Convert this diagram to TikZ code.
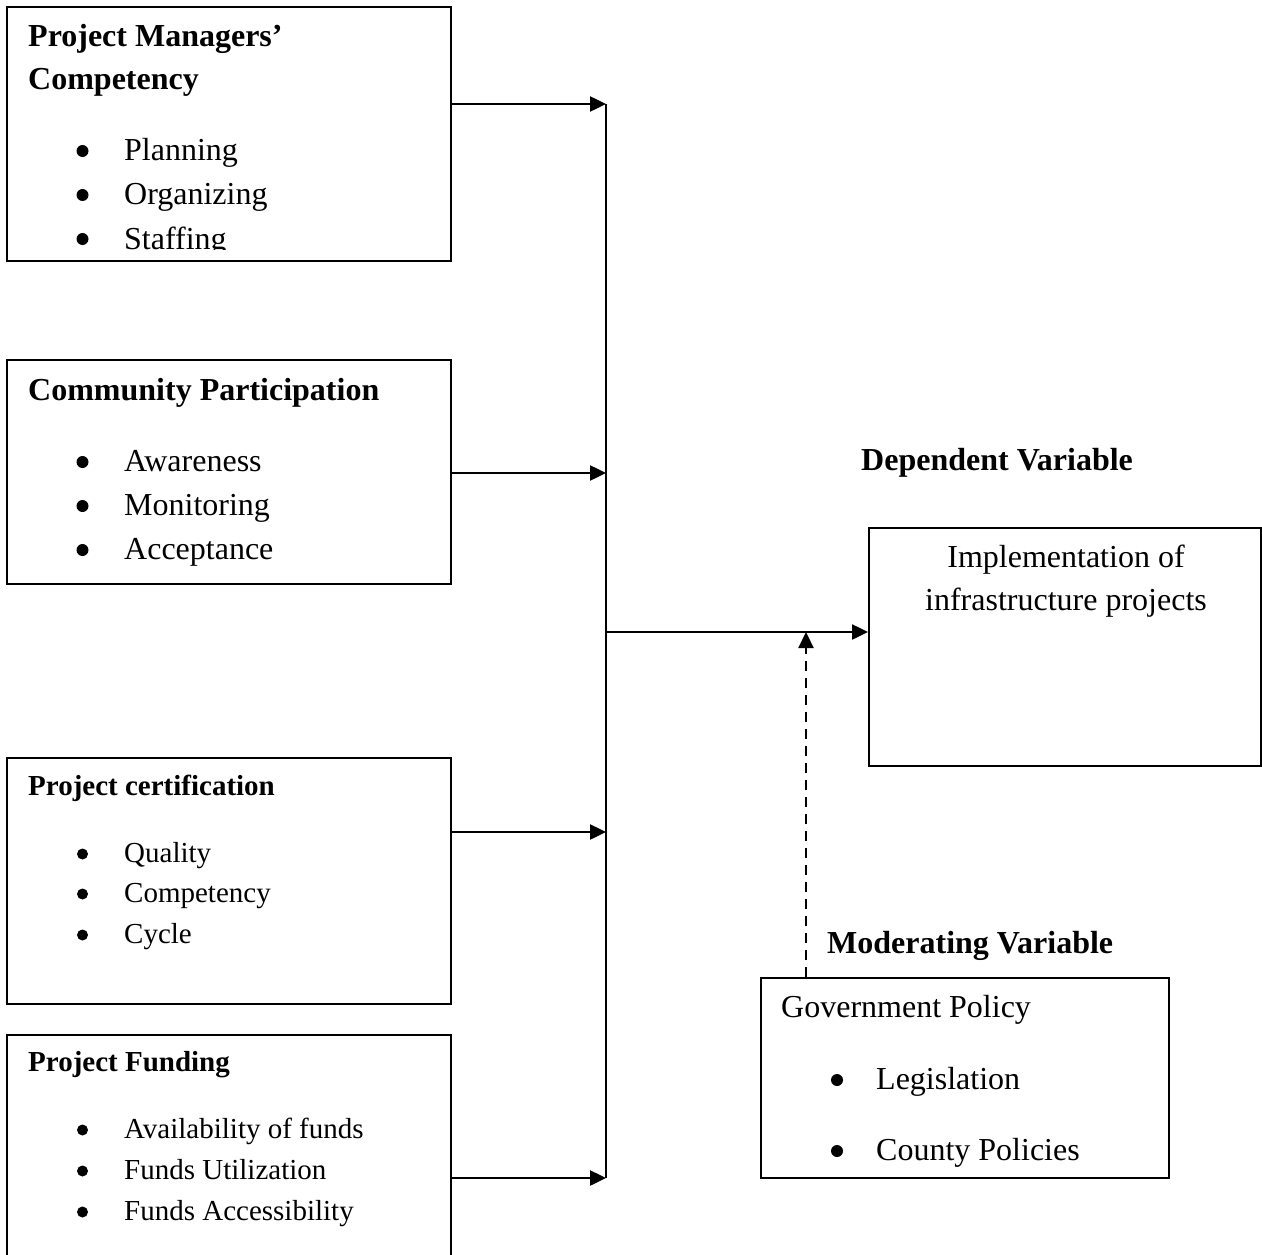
\documentclass[tikz,border=0pt]{standalone}
\usepackage{fontspec}
\setmainfont{Liberation Serif}
\usetikzlibrary{arrows.meta}
\begin{document}
\begin{tikzpicture}[x=1pt,y=-1pt,
  box/.style={draw,line width=2.2pt,rectangle,inner sep=0pt,anchor=north west},
  arr/.style={line width=2.5pt,-{Triangle[length=16pt,width=15pt]}},
  darr/.style={line width=2.2pt,dash pattern=on 10pt off 7pt,-{Triangle[length=16pt,width=15pt]}},
  big/.style={font=\fontsize{32}{38}\selectfont, inner sep=0pt, anchor=base west},
  bigb/.style={font=\fontsize{32}{38}\selectfont\bfseries, inner sep=0pt, anchor=base west},
  sm/.style={font=\fontsize{29}{35}\selectfont, inner sep=0pt, anchor=base west},
  smb/.style={font=\fontsize{29}{35}\selectfont\bfseries, inner sep=0pt, anchor=base west},
  bigc/.style={font=\fontsize{32}{38}\selectfont, inner sep=0pt, anchor=base},
  dotb/.style={circle,fill,inner sep=0pt,minimum size=12pt},
  dots/.style={circle,fill,inner sep=0pt,minimum size=11pt},
]
\useasboundingbox (0,0) rectangle (1262,1255);

% ---- boxes
\node[box, minimum width=444pt, minimum height=254pt] (b1) at (6,6) {};
\node[box, minimum width=444pt, minimum height=224pt] (b2) at (6,359) {};
\node[box, minimum width=444pt, minimum height=246pt] (b3) at (6,757) {};
\node[box, minimum width=444pt, minimum height=240pt] (b4) at (6,1034) {};
\node[box, minimum width=392pt, minimum height=238pt] (dep) at (868,527) {};
\node[box, minimum width=408pt, minimum height=200pt] (mod) at (760,977) {};

% ---- box 1
\node[bigb] (t1a) at (28,47) {Project Managers’};
\node[bigb] (t1b) at (28,90) {Competency};
\node[dotb] (d11) at (82.5,151) {};
\node[big] (i11) at (124,160) {Planning};
\node[dotb] (d12) at (82.5,195) {};
\node[big] (i12) at (124,204) {Organizing};
\node[dotb] (d13) at (82.5,239) {};
\begin{scope}
\clip (0,0) rectangle (1262,249);
\node[big] (i13) at (124,249) {Staffing};
\end{scope}

% ---- box 2
\node[bigb] (t2) at (28,400) {Community Participation};
\node[dotb] (d21) at (82.5,462) {};
\node[big] (i21) at (124,471) {Awareness};
\node[dotb] (d22) at (82.5,506) {};
\node[big] (i22) at (124,515) {Monitoring};
\node[dotb] (d23) at (82.5,550) {};
\node[big] (i23) at (124,559) {Acceptance};

% ---- box 3
\node[smb] (t3) at (28,795) {Project certification};
\node[dots] (d31) at (82.5,854) {};
\node[sm] (i31) at (124,862) {Quality};
\node[dots] (d32) at (82.5,894) {};
\node[sm] (i32) at (124,902) {Competency};
\node[dots] (d33) at (82.5,935) {};
\node[sm] (i33) at (124,943) {Cycle};

% ---- box 4
\node[smb] (t4) at (28,1071) {Project Funding};
\node[dots] (d41) at (82.5,1130) {};
\node[sm] (i41) at (124,1138) {Availability of funds};
\node[dots] (d42) at (82.5,1171) {};
\node[sm] (i42) at (124,1179) {Funds Utilization};
\node[dots] (d43) at (82.5,1212) {};
\node[sm] (i43) at (124,1220) {Funds Accessibility};

% ---- dependent
\node[bigb] (dv) at (861,470) {Dependent Variable};
\node[bigc] (dep1) at (1066,567) {Implementation of};
\node[bigc] (dep2) at (1066,610) {infrastructure projects};

% ---- moderating
\node[bigb] (mv) at (827,953) {Moderating Variable};
\node[big] (gp) at (781,1017) {Government Policy};
\node[dotb] (dm1) at (837,1080) {};
\node[big] (m1) at (876,1089) {Legislation};
\node[dotb] (dm2) at (837,1151) {};
\node[big] (m2) at (876,1160) {County Policies};

% ---- connectors
\coordinate (j1) at (606,104);
\coordinate (j2) at (606,473);
\coordinate (j3) at (606,832);
\coordinate (j4) at (606,1178);
\coordinate (jm) at (606,632);
\coordinate (jd) at (806,632);
\draw[arr] (b1.east |- j1) -- (j1);
\draw[arr] (b2.east |- j2) -- (j2);
\draw[arr] (b3.east |- j3) -- (j3);
\draw[arr] (b4.east |- j4) -- (j4);
\draw[line width=2.5pt] (j1) -- (j4);
\draw[arr] (jm) -- (dep.west |- jm);
\draw[darr] (mod.north -| jd) -- (jd);
\end{tikzpicture}
\end{document}
